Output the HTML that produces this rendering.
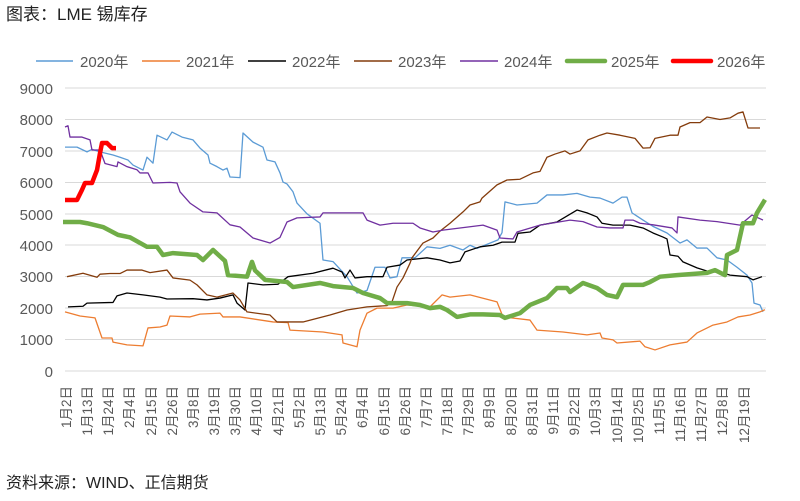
<!DOCTYPE html>
<html><head><meta charset="utf-8"><style>
body{margin:0;background:#fff;}
svg{display:block;font-family:"Liberation Sans","Noto Sans CJK SC",sans-serif;}
.s{fill:none;vector-effect:non-scaling-stroke;stroke-linejoin:round;}
</style></head><body>
<svg width="800" height="501" viewBox="0 0 800 501">
<text x="6" y="20" font-size="17" fill="#222">图表：LME 锡库存</text>
<g stroke="#d9d9d9" stroke-width="1">
<line x1="65" x2="766" y1="88" y2="88"/><line x1="65" x2="766" y1="119.5" y2="119.5"/>
<line x1="65" x2="766" y1="151" y2="151"/><line x1="65" x2="766" y1="182.5" y2="182.5"/>
<line x1="65" x2="766" y1="214" y2="214"/><line x1="65" x2="766" y1="245" y2="245"/>
<line x1="65" x2="766" y1="276.5" y2="276.5"/><line x1="65" x2="766" y1="308" y2="308"/>
<line x1="65" x2="766" y1="339.5" y2="339.5"/><line x1="65" x2="766" y1="371" y2="371"/>
</g>
<g font-size="15" fill="#595959" text-anchor="end">
<text x="53" y="94">9000</text><text x="53" y="125">8000</text><text x="53" y="157">7000</text>
<text x="53" y="188">6000</text><text x="53" y="220">5000</text><text x="53" y="251">4000</text>
<text x="53" y="282">3000</text><text x="53" y="314">2000</text><text x="53" y="345">1000</text>
<text x="53" y="377">0</text>
</g>
<g font-size="13.5" fill="#595959" text-anchor="end">
<text transform="translate(71,386) rotate(-90)">1月2日</text>
<text transform="translate(92,386) rotate(-90)">1月13日</text>
<text transform="translate(113,386) rotate(-90)">1月24日</text>
<text transform="translate(134,386) rotate(-90)">2月4日</text>
<text transform="translate(156,386) rotate(-90)">2月15日</text>
<text transform="translate(177,386) rotate(-90)">2月26日</text>
<text transform="translate(198,386) rotate(-90)">3月8日</text>
<text transform="translate(219,386) rotate(-90)">3月19日</text>
<text transform="translate(240,386) rotate(-90)">3月30日</text>
<text transform="translate(261,386) rotate(-90)">4月10日</text>
<text transform="translate(283,386) rotate(-90)">4月21日</text>
<text transform="translate(304,386) rotate(-90)">5月2日</text>
<text transform="translate(325,386) rotate(-90)">5月13日</text>
<text transform="translate(346,386) rotate(-90)">5月24日</text>
<text transform="translate(367,386) rotate(-90)">6月4日</text>
<text transform="translate(389,386) rotate(-90)">6月15日</text>
<text transform="translate(410,386) rotate(-90)">6月26日</text>
<text transform="translate(431,386) rotate(-90)">7月7日</text>
<text transform="translate(452,386) rotate(-90)">7月18日</text>
<text transform="translate(473,386) rotate(-90)">7月29日</text>
<text transform="translate(494,386) rotate(-90)">8月9日</text>
<text transform="translate(516,386) rotate(-90)">8月20日</text>
<text transform="translate(537,386) rotate(-90)">8月31日</text>
<text transform="translate(558,386) rotate(-90)">9月11日</text>
<text transform="translate(579,386) rotate(-90)">9月22日</text>
<text transform="translate(600,386) rotate(-90)">10月3日</text>
<text transform="translate(622,386) rotate(-90)">10月14日</text>
<text transform="translate(643,386) rotate(-90)">10月25日</text>
<text transform="translate(664,386) rotate(-90)">11月5日</text>
<text transform="translate(685,386) rotate(-90)">11月16日</text>
<text transform="translate(706,386) rotate(-90)">11月27日</text>
<text transform="translate(727,386) rotate(-90)">12月8日</text>
<text transform="translate(749,386) rotate(-90)">12月19日</text>
</g>
<g font-size="15" fill="#595959">
<line x1="36" x2="73" y1="61" y2="61" stroke="#5B9BD5" stroke-width="1.5"/><text x="80" y="67">2020年</text>
<line x1="142" x2="180" y1="61" y2="61" stroke="#ED7D31" stroke-width="1.5"/><text x="186" y="67">2021年</text>
<line x1="248" x2="286" y1="61" y2="61" stroke="#000" stroke-width="1.5"/><text x="292" y="67">2022年</text>
<line x1="354" x2="392" y1="61" y2="61" stroke="#843C0C" stroke-width="1.5"/><text x="398" y="67">2023年</text>
<line x1="460" x2="498" y1="61" y2="61" stroke="#7030A0" stroke-width="1.5"/><text x="504" y="67">2024年</text>
<line x1="567" x2="605" y1="61" y2="61" stroke="#70AD47" stroke-width="4.5" stroke-linecap="round"/><text x="611" y="67">2025年</text>
<line x1="673" x2="711" y1="61" y2="61" stroke="#FF0000" stroke-width="4.5" stroke-linecap="round"/><text x="717" y="67">2026年</text>
</g>
<g transform="translate(0,371) scale(1,-0.03144)">
<polyline class="s" stroke="#5B9BD5" stroke-width="1.3" points="65,7120 77,7120 87,6970 92,7050 100,6970 113,6870 120,6800 128,6710 133,6550 143,6390 147,6800 153,6610 157,7500 167,7350 172,7600 182,7440 193,7350 200,7090 208,6870 210,6610 217,6500 223,6390 227,6450 230,6170 240,6150 243,7570 253,7280 263,7120 267,6710 275,6650 280,6300 283,6010 287,5950 293,5700 297,5340 307,5000 320,4700 323,3530 333,3480 347,3000 357,2480 367,2560 375,3300 385,3300 390,2960 397,3000 402,3600 415,3600 427,3950 440,3900 450,4000 463,3850 470,4000 477,3900 498,4170 502,4400 505,5380 517,5280 537,5340 547,5600 563,5600 577,5650 590,5530 600,5500 613,5340 622,5530 627,5530 632,5030 643,4800 653,4600 667,4390 680,4070 687,4170 697,3910 707,3910 717,3600 727,3530 737,3300 747,3050 752,2800 754,2160 760,2100 763,1880"/>
<polyline class="s" stroke="#ED7D31" stroke-width="1.3" points="65,1880 80,1750 95,1690 102,1050 112,1050 113,920 127,830 143,800 148,1370 160,1400 167,1460 170,1750 190,1720 200,1810 220,1840 223,1720 240,1720 273,1560 288,1540 290,1300 323,1240 342,1150 343,890 357,770 360,1300 367,1840 377,2000 393,2000 407,2100 430,2040 442,2420 450,2350 470,2420 497,2200 503,1720 530,1620 537,1300 563,1240 587,1150 600,1210 602,1050 613,990 617,890 640,950 645,770 655,670 670,830 687,920 697,1210 713,1460 727,1560 738,1720 750,1780 760,1880 765,1950"/>
<polyline class="s" stroke="#000" stroke-width="1.3" points="68,2040 83,2060 87,2160 113,2180 117,2390 127,2480 143,2420 160,2350 167,2290 193,2300 207,2260 220,2320 233,2420 237,2160 245,1940 248,2800 263,2740 278,2760 288,3000 313,3110 333,3270 342,3150 345,2960 350,3210 355,2960 367,3000 383,3000 387,3300 400,3370 407,3530 427,3600 440,3530 450,3440 460,3500 465,3790 480,3950 493,4000 502,4100 515,4100 518,4380 530,4420 540,4640 557,4740 577,5120 587,5030 597,4900 602,4700 613,4640 630,4640 643,4550 653,4390 663,4260 667,4200 670,3690 678,3650 683,3470 697,3280 710,3150 720,3150 730,3050 747,3000 753,2900 762,3000"/>
<polyline class="s" stroke="#843C0C" stroke-width="1.3" points="67,3000 83,3110 97,2980 100,3080 110,3100 120,3100 127,3210 142,3210 150,3130 167,3210 173,2960 190,2890 197,2740 207,2420 217,2350 233,2480 240,2260 247,1880 270,1780 277,1560 303,1560 330,1780 347,1940 367,2040 387,2080 392,2200 397,2670 403,2960 410,3430 412,3600 423,4070 433,4230 440,4450 450,4700 463,5060 470,5280 480,5380 482,5500 497,5920 507,6075 520,6100 533,6300 540,6350 547,6800 555,6900 565,7000 570,6900 580,7000 588,7350 600,7500 607,7570 620,7500 635,7400 643,7090 650,7100 655,7400 670,7500 678,7500 680,7760 690,7900 700,7900 707,8080 720,8000 730,8050 738,8200 743,8240 748,7730 760,7730"/>
<polyline class="s" stroke="#7030A0" stroke-width="1.3" points="65,7760 68,7800 70,7440 82,7440 90,7350 92,7030 100,7030 105,6600 117,6500 118,6650 127,6500 137,6400 140,6300 148,6300 153,5980 170,6000 177,5980 180,5700 190,5340 203,5060 217,5030 230,4650 240,4580 253,4230 270,4070 280,4250 287,4740 297,4870 320,4900 323,5030 363,5030 367,4800 380,4640 393,4700 413,4700 420,4550 433,4420 443,4480 483,4640 497,4480 500,4230 513,4200 517,4420 540,4640 570,4800 583,4750 597,4580 610,4550 623,4550 625,4800 633,4800 640,4700 653,4650 672,4550 677,4390 678,4900 700,4800 717,4750 740,4640 752,4960 763,4800"/>
<polyline class="s" stroke="#70AD47" stroke-width="4.5" points="63,4740 80,4740 87,4700 103,4580 118,4330 130,4250 147,3950 157,3950 163,3690 173,3750 197,3690 203,3530 213,3850 225,3500 228,3050 247,3000 252,3470 255,3200 265,2900 287,2830 293,2670 320,2800 333,2700 353,2640 363,2480 380,2320 387,2160 407,2160 420,2100 430,2000 440,2040 447,1940 457,1720 470,1800 483,1800 500,1780 505,1690 520,1840 530,2100 547,2320 557,2640 567,2640 570,2510 583,2800 597,2640 607,2420 617,2350 623,2740 643,2740 650,2830 660,3000 677,3050 707,3120 715,3210 725,3050 727,3690 737,3850 743,4700 753,4700 757,5030 765,5450"/>
<polyline class="s" stroke="#FF0000" stroke-width="4.5" points="65,5440 77,5440 82,5760 85,5980 92,5980 97,6390 100,6930 102,7250 107,7250 112,7090 116,7090"/>
</g>
<text x="6" y="488" font-size="16" fill="#222">资料来源：WIND、正信期货</text>
</svg>
</body></html>
